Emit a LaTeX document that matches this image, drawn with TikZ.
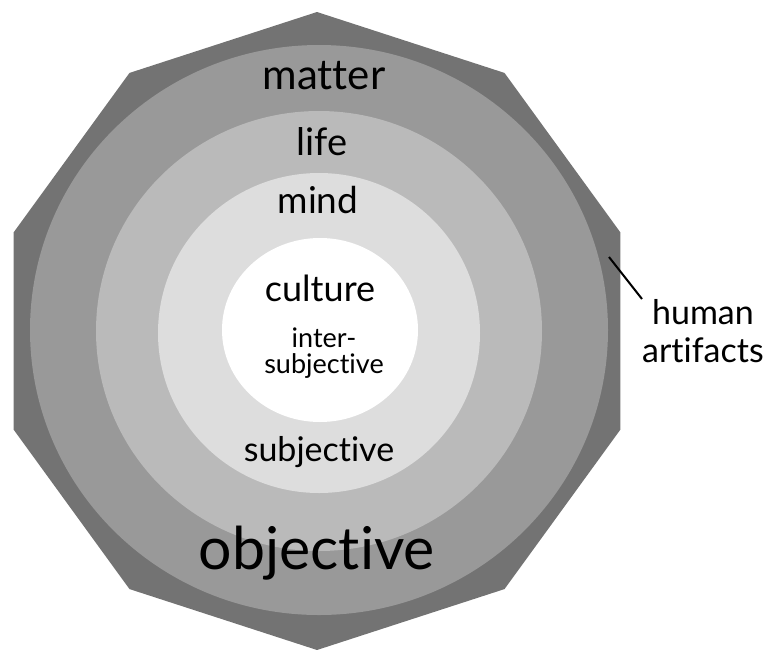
\documentclass[tikz,border=0pt]{standalone}
\usepackage{fontspec}
\setmainfont[Ligatures=NoCommon]{Lato}
\usepackage{tikz}
\definecolor{shellgray}{gray}{0.45}
\definecolor{mattergray}{gray}{0.60}
\definecolor{lifegray}{gray}{0.73}
\definecolor{mindgray}{gray}{0.865}
\tikzset{
  lbl/.style={inner sep=0pt,anchor=base,text=black,align=center},
}
\newcommand{\ringlabel}[4]{%
  \node[lbl,font=\fontsize{#3}{#3}\selectfont] (#1) at (#2) {#4};
}

\begin{document}
\begin{tikzpicture}[x=1pt,y=-1pt,join=round]
\useasboundingbox (0,0) rectangle (769,649);
\fill[shellgray,shift={(317,331)}] (90:319) \foreach \a in {126,162,...,414}{ -- (\a:319)} -- cycle;
\fill[mattergray] (319,330) ellipse [x radius=289pt,y radius=285pt];
\fill[lifegray] (319,331) ellipse [x radius=223pt,y radius=220pt];
\fill[mindgray] (319,333) ellipse [x radius=161pt,y radius=160pt];
\fill[white] (320,330) ellipse [x radius=98pt,y radius=92pt];
\ringlabel{matter}{324,89}{42}{matter}
\ringlabel{life}{322,155}{38}{life}
\ringlabel{mind}{318,213}{37}{mind}
\ringlabel{culture}{320,301}{36}{culture}
\node[lbl,font=\fontsize{27}{26}\selectfont] (inter) at (324,373) {inter-\\subjective};
\ringlabel{subj}{319,461}{34}{subjective}
\ringlabel{obj}{317,569}{59}{objective}
\coordinate (tick) at (609,257);
\node[lbl,anchor=north west,font=\fontsize{34}{38}\selectfont] (artifacts) at (642,299) {human\\artifacts};
\draw[line width=2pt] (tick) -- (artifacts.north west);
\end{tikzpicture}
\end{document}
